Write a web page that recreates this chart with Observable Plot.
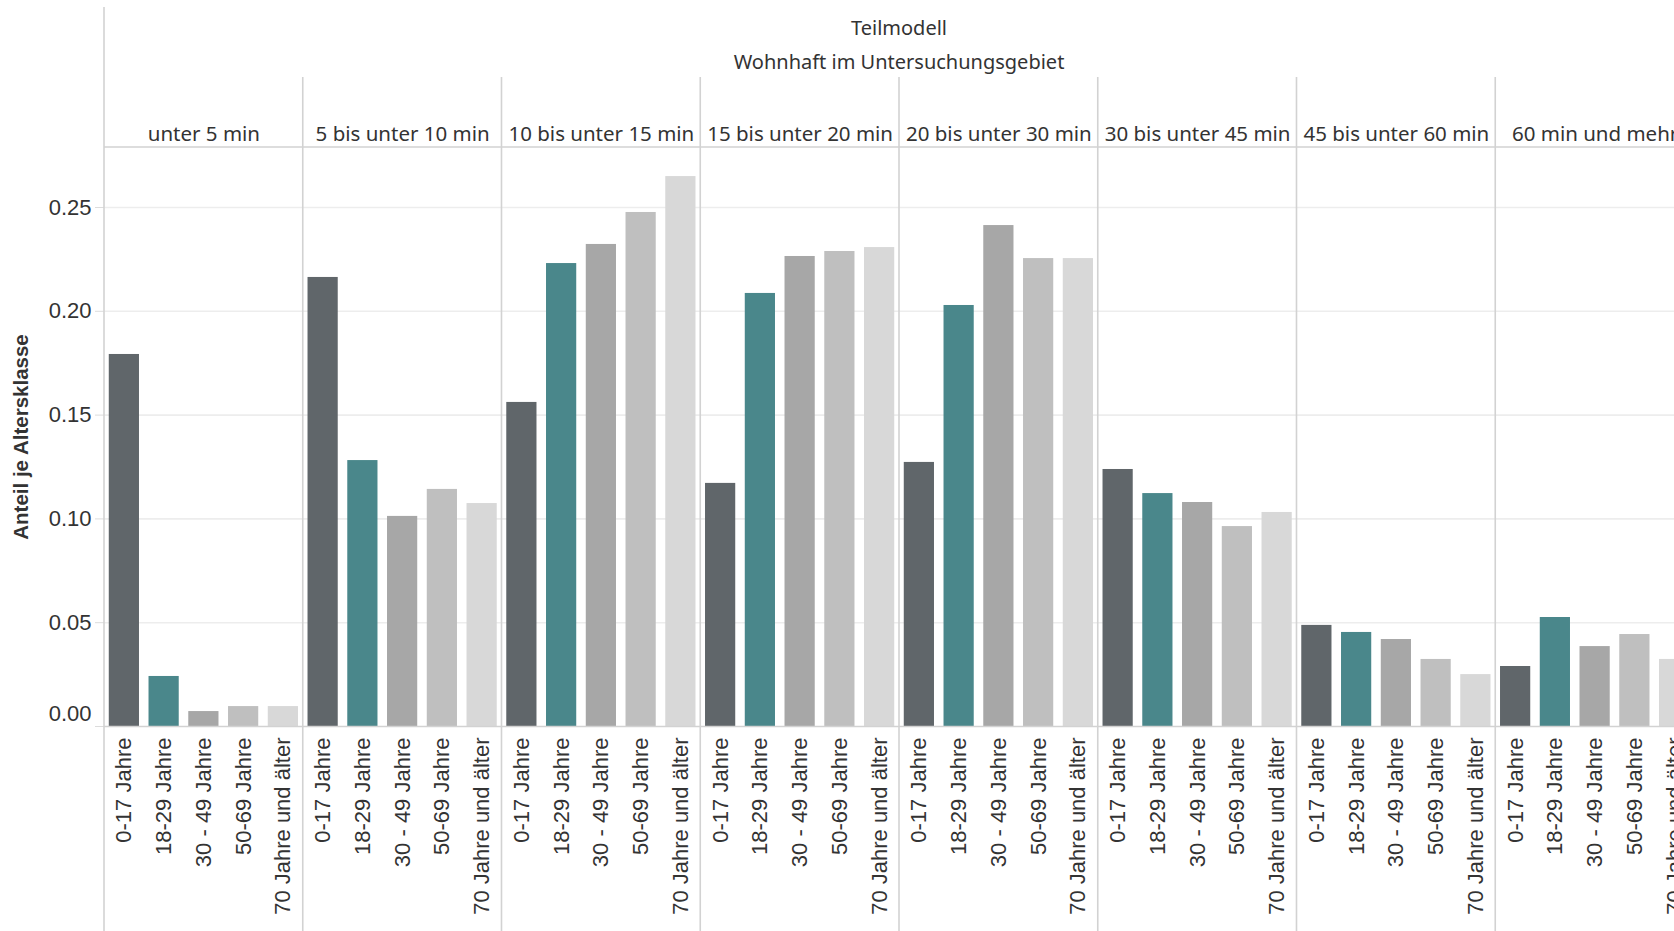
<!DOCTYPE html>
<html>
<head>
<meta charset="utf-8">
<script src="https://cdn.jsdelivr.net/npm/d3@7"></script>
<script src="https://cdn.jsdelivr.net/npm/@observablehq/plot@0.6"></script>
<style>
  html, body { margin: 0; padding: 0; background: #ffffff; overflow: hidden; }
  #chart { width: 1674px; height: 931px; overflow: hidden; position: relative; }
  #chart svg { max-width: none !important; display: block; }
</style>
</head>
<body>
<div id="chart"></div>
<script>
// ---- data ----
const titleLines = ["Teilmodell", "Wohnhaft im Untersuchungsgebiet"];
const yLabel = "Anteil je Altersklasse";
const durations = [
  "unter 5 min", "5 bis unter 10 min", "10 bis unter 15 min", "15 bis unter 20 min",
  "20 bis unter 30 min", "30 bis unter 45 min", "45 bis unter 60 min", "60 min und mehr"
];
const ages = ["0-17 Jahre", "18-29 Jahre", "30 - 49 Jahre", "50-69 Jahre", "70 Jahre und älter"];
const ageColors = ["#60666a", "#4a878b", "#a7a7a7", "#bfbfbf", "#d8d8d8"];
const yTicks = [0, 0.05, 0.10, 0.15, 0.20, 0.25];

const vUnter5   = [0.1792, 0.0241, 0.0072, 0.0096, 0.0096];
const v5bis10   = [0.2163, 0.1281, 0.1012, 0.1142, 0.1074];
const v10bis15  = [0.1561, 0.2230, 0.2322, 0.2476, 0.2649];
const v15bis20  = [0.1171, 0.2086, 0.2264, 0.2288, 0.2307];
const v20bis30  = [0.1272, 0.2028, 0.2413, 0.2254, 0.2254];
const v30bis45  = [0.1238, 0.1122, 0.1079, 0.0963, 0.1031];
const v45bis60  = [0.0487, 0.0453, 0.0419, 0.0323, 0.0250];
const v60mehr   = [0.0289, 0.0525, 0.0385, 0.0443, 0.0323];

const seriesByDuration = [vUnter5, v5bis10, v10bis15, v15bis20, v20bis30, v30bis45, v45bis60, v60mehr];
const data = durations.flatMap((dur, i) =>
  ages.map((age, j) => ({ dur, age, value: seriesByDuration[i][j] }))
);

// ---- chart ----
const textColor = "#333333";
const lineColor = "#d2d2d2";
const sansTick = "'Liberation Sans', Arial, sans-serif";
const sansHead = "'Noto Sans', 'Open Sans', sans-serif";

const plot = Plot.plot({
  width: 1694,
  height: 931,
  marginLeft: 104,
  marginRight: 0,
  marginTop: 147,
  marginBottom: 205,
  style: { background: "#ffffff", color: textColor, fontFamily: sansTick, maxWidth: "none", overflow: "visible" },
  fx: { domain: durations, padding: 0, round: false },
  x: { domain: ages, paddingInner: 0.24, paddingOuter: 0.12, round: false },
  y: { domain: [0, 0.2789] },
  color: { domain: ages, range: ageColors },
  marks: [
    Plot.gridY(yTicks.filter(d => d > 0), { stroke: "#ededed", strokeOpacity: 1, strokeWidth: 1.6 }),
    Plot.barY(data, { fx: "dur", x: "age", y: "value", fill: "age" }),
    Plot.ruleY([0], { stroke: lineColor, strokeWidth: 1.6 }),
    Plot.axisY(yTicks, {
      anchor: "left", tickSize: 9, tickPadding: 4, stroke: "#dcdcdc", fill: textColor,
      fontSize: 22, fontFamily: sansTick, label: null,
      tickFormat: d => d === 0 ? "" : d3.format(".2f")(d)
    }),
    Plot.axisY([0], {
      anchor: "left", tickSize: 0, tickPadding: 13, dy: -13, fill: textColor,
      fontSize: 22, fontFamily: sansTick, label: null, tickFormat: d3.format(".2f")
    }),
    Plot.text([{ fx: durations[0], label: yLabel }], {
      fx: "fx", text: "label", frameAnchor: "left", textAnchor: "middle", lineAnchor: "middle",
      rotate: -90, dx: -83,
      fontSize: 20.5, fontWeight: "bold", fontFamily: sansTick, fill: textColor
    }),
    Plot.axisX({
      anchor: "bottom", tickSize: 0, tickPadding: 11, tickRotate: -90,
      fontSize: 22, fontFamily: sansTick, fill: textColor, label: null
    }),
    Plot.axisFx({
      anchor: "top", tickSize: 0, tickPadding: 7, fontSize: 20.5, fontFamily: sansHead,
      fill: textColor, label: null
    })
  ]
});

document.getElementById("chart").appendChild(plot);

// ---- layout lines and titles derived from the facet scale ----
const svg = d3.select(plot);
const fx = plot.scale("fx");
const left0 = fx.apply(durations[0]);
const rightEnd = fx.apply(durations[durations.length - 1]) + fx.bandwidth;
const g = svg.append("g").attr("class", "decor");
durations.forEach((d, i) => {
  const x = fx.apply(d);
  g.append("line")
    .attr("x1", x).attr("x2", x)
    .attr("y1", i === 0 ? 7 : 77).attr("y2", 931)
    .attr("stroke", lineColor).attr("stroke-width", 1.6);
});
g.append("line")
  .attr("x1", left0).attr("x2", rightEnd)
  .attr("y1", 147).attr("y2", 147)
  .attr("stroke", lineColor).attr("stroke-width", 1.6);

const cx = (left0 + rightEnd) / 2;
g.append("text").text(titleLines[0])
  .attr("x", cx).attr("y", 35).attr("text-anchor", "middle")
  .attr("font-family", sansHead).attr("font-size", 20).attr("fill", textColor);
g.append("text").text(titleLines[1])
  .attr("x", cx).attr("y", 69).attr("text-anchor", "middle")
  .attr("font-family", sansHead).attr("font-size", 20).attr("fill", textColor);
</script>
</body>
</html>
